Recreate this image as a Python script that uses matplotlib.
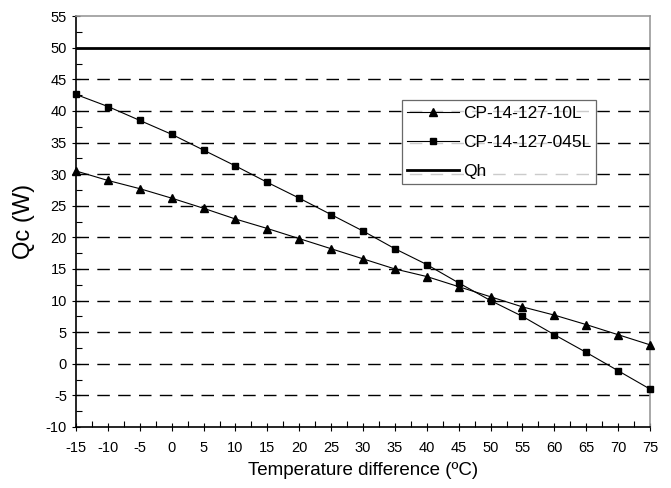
import numpy as np
import matplotlib.pyplot as plt
from matplotlib.ticker import MultipleLocator

plt.rcParams['font.family'] = ['Liberation Sans', 'DejaVu Sans']
plt.rcParams['axes.unicode_minus'] = False

# Data
temp_diff = [-15, -10, -5, 0, 5, 10, 15, 20, 25, 30, 35, 40, 45, 50, 55, 60, 65, 70, 75]
qc_10l = [30.5, 29.0, 27.7, 26.2, 24.6, 22.9, 21.4, 19.8, 18.2,
          16.6, 15.0, 13.8, 12.2, 10.6, 9.0, 7.7, 6.2, 4.6, 3.0]
qc_045l = [42.6, 40.7, 38.5, 36.3, 33.8, 31.3, 28.7, 26.2, 23.6,
           21.0, 18.2, 15.7, 12.8, 10.0, 7.5, 4.6, 1.8, -1.1, -4.0]
qh = [50] * len(temp_diff)

fig = plt.figure(figsize=(6.71, 4.88), dpi=100)
ax = fig.add_axes([0.1133, 0.125, 0.8554, 0.842])

# Dashed horizontal grid
for yv in range(-5, 50, 5):
    ax.axhline(yv, color='black', lw=1.0, dashes=(9, 6), zorder=1)

ax.plot(temp_diff, qc_10l, color='black', lw=0.8, marker='^', ms=5.5,
        label='CP-14-127-10L', zorder=3, clip_on=False)
ax.plot(temp_diff, qc_045l, color='black', lw=0.8, marker='s', ms=4.5,
        label='CP-14-127-045L', zorder=3, clip_on=False)
ax.plot(temp_diff, qh, color='black', lw=2, label='Qh', zorder=3)

ax.set_xlim(-15, 75)
ax.set_ylim(-10, 55)
ax.xaxis.set_major_locator(MultipleLocator(5))
ax.xaxis.set_minor_locator(MultipleLocator(2.5))
ax.yaxis.set_major_locator(MultipleLocator(5))
ax.yaxis.set_minor_locator(MultipleLocator(2.5))
ax.tick_params(axis='both', which='major', direction='inout', length=6,
               width=0.8, labelsize=10.5, colors='black')
ax.tick_params(axis='x', which='major', pad=7)
ax.tick_params(axis='both', which='minor', direction='in', length=4, width=0.8)

for side in ['top', 'right']:
    ax.spines[side].set_color('#999999')
    ax.spines[side].set_linewidth(1.2)
for side in ['left', 'bottom']:
    ax.spines[side].set_color('black')
    ax.spines[side].set_linewidth(1.2)

ax.set_xlabel('Temperature difference (ºC)', fontsize=13.5, labelpad=5)
ax.set_ylabel('Qc (W)', fontsize=17, labelpad=8)

leg = ax.legend(loc='upper left', bbox_to_anchor=(0.568, 0.795), fontsize=12.5,
                frameon=True, fancybox=False, handlelength=3.0,
                borderpad=0.3, labelspacing=0.8, handletextpad=0.2,
                borderaxespad=0)
leg.get_frame().set_edgecolor('#444444')
leg.get_frame().set_linewidth(0.9)

fig.savefig('out.png', dpi=100)
